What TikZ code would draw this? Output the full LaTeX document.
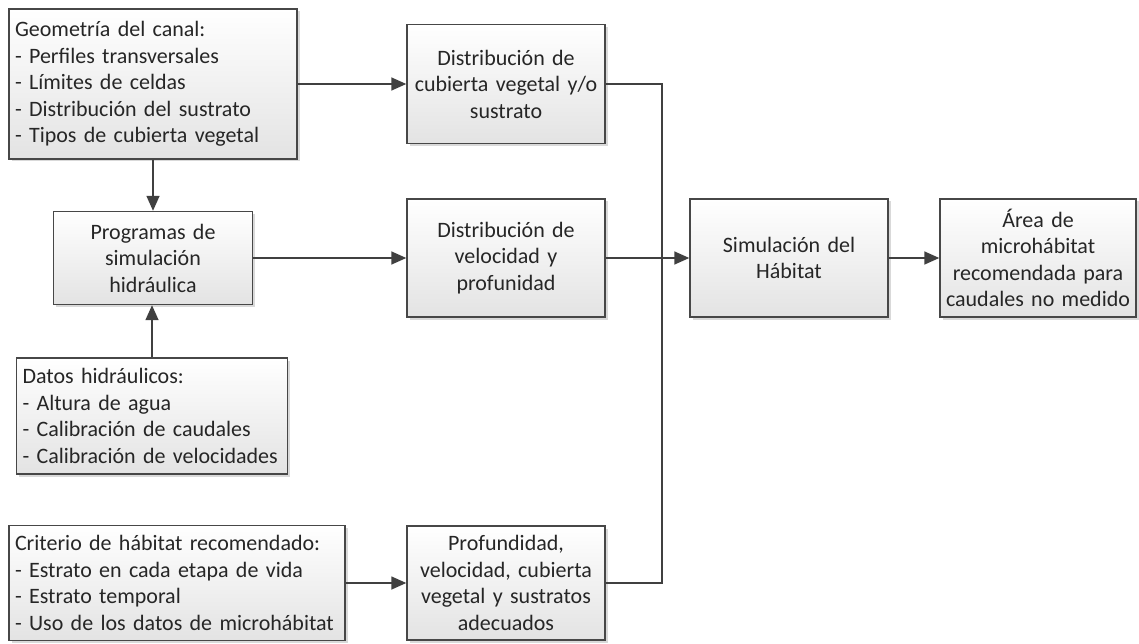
\documentclass[tikz,border=0pt]{standalone}
\usepackage{fontspec}
\setmainfont{Carlito}
\usetikzlibrary{arrows.meta,shadows}
\definecolor{bordc}{HTML}{474747}
\definecolor{linec}{HTML}{404040}
\definecolor{txtc}{HTML}{262626}
\definecolor{botc}{HTML}{E3E3E3}
\begin{document}
\begin{tikzpicture}[x=1pt,y=-1pt,
  box/.style={draw=bordc, line width=1.4pt, top color=white, bottom color=botc,
    text=txtc, font=\fontsize{22}{26.5}\selectfont, inner sep=0pt,
    drop shadow={opacity=0.15, shadow xshift=2.5pt, shadow yshift=-2.5pt, fill=black}},
  lbox/.style={box, align=left},
  cbox/.style={box, align=center},
  conn/.style={draw=linec, line width=1.5pt},
  arr/.style={conn, -{Triangle[length=15pt,width=13pt]}}]
\useasboundingbox (0,0) rectangle (1139,644);

\node[lbox, minimum width=288pt, minimum height=150pt, text width=276pt] (A) at (153,84)
  {Geometría del canal:\\- Perfiles transversales\\- Límites de celdas\\- Distribución del sustrato\\- Tipos de cubierta vegetal};
\node[cbox, minimum width=199pt, minimum height=93pt, text width=189pt] (B) at (153,258)
  {Programas de\\simulación\\hidráulica};
\node[lbox, minimum width=271pt, minimum height=116pt, text width=259pt] (C) at (152,416)
  {Datos hidráulicos:\\- Altura de agua\\- Calibración de caudales\\- Calibración de velocidades};
\node[lbox, minimum width=336pt, minimum height=115pt, text width=324pt] (D) at (177,583)
  {Criterio de hábitat recomendado:\\- Estrato en cada etapa de vida\\- Estrato temporal\\- Uso de los datos de microhábitat};
\node[cbox, minimum width=198pt, minimum height=119pt, text width=188pt] (E) at (506,84)
  {Distribución de\\cubierta vegetal y/o\\sustrato};
\node[cbox, minimum width=198pt, minimum height=118pt, text width=188pt] (F) at (506,258)
  {Distribución de\\velocidad y\\profunidad};
\node[cbox, minimum width=198pt, minimum height=114pt, text width=188pt] (G) at (506,583)
  {Profundidad,\\velocidad, cubierta\\vegetal y sustratos\\adecuados};
\node[cbox, minimum width=198pt, minimum height=118pt, text width=188pt] (H) at (789,258)
  {Simulación del\\Hábitat};
\node[cbox, minimum width=196pt, minimum height=118pt, text width=190pt] (I) at (1038,258)
  {Área de\\microhábitat\\recomendada para\\caudales no medido};

\coordinate (J) at (662,258);

\draw[arr] (A.south) -- (A.south |- B.north);
\draw[arr] (C.north) -- (C.north |- B.south);
\draw[arr] (A.east) -- (A.east -| E.west);
\draw[arr] (B.east) -- (B.east -| F.west);
\draw[arr] (D.east) -- (D.east -| G.west);
\draw[conn] (E.east) -| (J);
\draw[conn] (G.east) -| (J);
\draw[arr] (F.east) -- (F.east -| H.west);
\draw[arr] (H.east) -- (I.west);
\end{tikzpicture}
\end{document}
